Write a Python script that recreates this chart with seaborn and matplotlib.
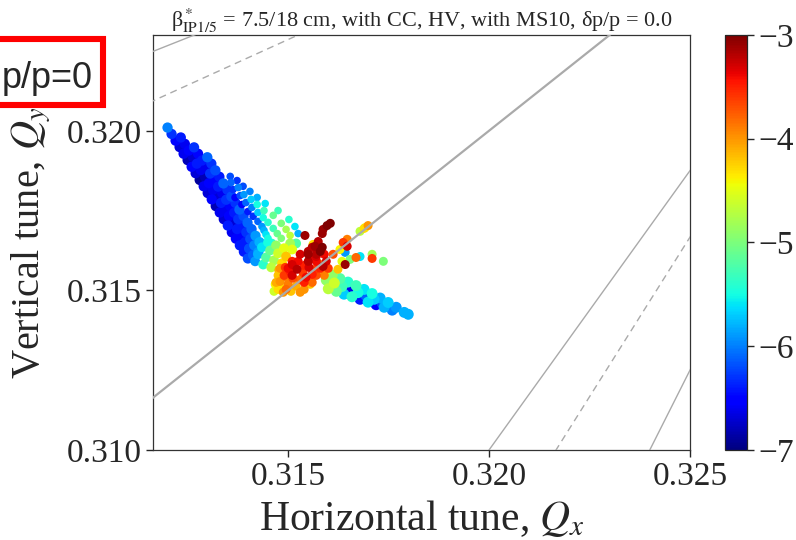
import numpy as np
import pandas as pd
import matplotlib
matplotlib.use("Agg")
import matplotlib.pyplot as plt
from matplotlib.patches import Rectangle
import seaborn as sns

# ---- tune footprint (Qx, Qy, log10 diffusion) ----
# left wing, dense body (4 strands running from the tip down to the kink)
left_wing_qx = [
    0.3120, 0.3121, 0.3122, 0.3123, 0.3124, 0.3125, 0.3126, 0.3127, 0.3128, 0.3129, 0.3130,
    0.3131, 0.3132, 0.3133, 0.3134, 0.3135, 0.3136, 0.3137, 0.3138, 0.3139, 0.3140,
    0.31233, 0.31243, 0.31253, 0.31263, 0.31273, 0.31283, 0.31293, 0.31303, 0.31313, 0.31323,
    0.31333, 0.31343, 0.31353, 0.31363, 0.31373, 0.31383, 0.31393, 0.31403, 0.31413,
    0.31266, 0.31276, 0.31286, 0.31296, 0.31306, 0.31316, 0.31326, 0.31336, 0.31346,
    0.31356, 0.31366, 0.31376, 0.31386, 0.31396, 0.31406, 0.31416, 0.31426,
    0.31299, 0.31309, 0.31319, 0.31329, 0.31339, 0.31349, 0.31359, 0.31369, 0.31379,
    0.31389, 0.31399, 0.31409, 0.31419, 0.31429,
]
left_wing_qy = [
    0.32010, 0.31990, 0.31969, 0.31949, 0.31928, 0.31908, 0.31887, 0.31867, 0.31846, 0.31826, 0.31805,
    0.31785, 0.31764, 0.31744, 0.31723, 0.31703, 0.31682, 0.31662, 0.31641, 0.31621, 0.31600,
    0.31979, 0.31959, 0.31938, 0.31918, 0.31897, 0.31877, 0.31856, 0.31836, 0.31815, 0.31795,
    0.31774, 0.31754, 0.31733, 0.31713, 0.31692, 0.31672, 0.31651, 0.31631, 0.31610,
    0.31948, 0.31928, 0.31907, 0.31887, 0.31866, 0.31846, 0.31825, 0.31805, 0.31784,
    0.31764, 0.31743, 0.31723, 0.31702, 0.31682, 0.31661, 0.31641, 0.31620,
    0.31917, 0.31897, 0.31876, 0.31856, 0.31835, 0.31815, 0.31794, 0.31774, 0.31753,
    0.31733, 0.31712, 0.31692, 0.31671, 0.31651,
]
left_wing_dq = [
    -6.0, -6.3, -6.5, -6.7, -6.6, -6.8, -6.5, -6.7, -6.9, -6.6, -6.7,
    -6.5, -6.8, -6.6, -6.7, -6.4, -6.6, -6.5, -6.4, -6.4, -6.2,
    -6.4, -6.6, -6.5, -6.7, -6.4, -6.6, -6.8, -6.5, -6.6, -6.7,
    -6.4, -6.6, -6.5, -6.7, -6.4, -6.5, -6.4, -6.2, -6.1,
    -6.3, -6.5, -6.4, -6.6, -6.3, -6.5, -6.4, -6.6, -6.3,
    -6.5, -6.4, -6.3, -6.4, -6.3, -6.2, -6.0, -5.9,
    -6.1, -6.3, -6.2, -6.4, -6.1, -6.3, -6.2, -6.3, -6.1,
    -6.2, -6.1, -6.1, -5.9, -5.8,
]

# fan of short strands sticking out of the left wing
fan_qx = [
    0.31368, 0.31363, 0.31358, 0.31356,
    0.31385, 0.31381, 0.31376, 0.31373,
    0.31400, 0.31395, 0.31390, 0.31388,
    0.31413, 0.31410, 0.31408, 0.31405,
    0.31425, 0.31425, 0.31423, 0.31423,
    0.31435, 0.31438, 0.31440, 0.31443,
    0.31440, 0.31450, 0.31463, 0.31475,
    0.31445, 0.31463, 0.31483, 0.31502,
    0.31450, 0.31473, 0.31495, 0.31517,
    0.31460, 0.31483, 0.31505, 0.31525,
]
fan_qy = [
    0.31791, 0.31816, 0.31838, 0.31857,
    0.31769, 0.31797, 0.31822, 0.31844,
    0.31747, 0.31775, 0.31800, 0.31826,
    0.31732, 0.31760, 0.31785, 0.31810,
    0.31716, 0.31744, 0.31769, 0.31791,
    0.31700, 0.31728, 0.31750, 0.31772,
    0.31688, 0.31713, 0.31735, 0.31750,
    0.31675, 0.31694, 0.31710, 0.31722,
    0.31663, 0.31678, 0.31691, 0.31700,
    0.31650, 0.31663, 0.31672, 0.31678,
]
fan_dq = [
    -6.5, -6.3, -6.1, -6.2,
    -6.5, -6.2, -6.0, -6.3,
    -6.4, -6.1, -5.9, -6.2,
    -6.3, -6.0, -5.7, -6.0,
    -6.1, -5.7, -5.5, -5.8,
    -5.9, -5.5, -5.3, -5.6,
    -5.8, -5.4, -5.1, -5.3,
    -5.6, -5.3, -5.0, -5.4,
    -5.5, -5.1, -4.8, -5.6,
    -5.4, -5.0, -4.7, -5.8,
]

# band joining the kink to the core
band_qx = [0.31418, 0.31438, 0.31458, 0.31478, 0.31425, 0.31445, 0.31465, 0.31485,
           0.31435, 0.31455, 0.31475, 0.31495, 0.31450, 0.31470, 0.31490,
           0.31505, 0.31510, 0.31520]
band_qy = [0.31591, 0.31581, 0.31572, 0.31563, 0.31613, 0.31603, 0.31594, 0.31585,
           0.31635, 0.31625, 0.31616, 0.31606, 0.31650, 0.31641, 0.31632,
           0.31647, 0.31628, 0.31647]
band_dq = [-5.9, -5.4, -4.7, -4.1, -5.8, -5.2, -4.8, -4.3,
           -5.6, -5.1, -4.6, -4.2, -5.5, -4.9, -4.5,
           -4.8, -4.5, -5.2]

# right wing
right_wing_qx = [
    0.31590, 0.31610, 0.31629, 0.31649, 0.31669, 0.31689, 0.31709, 0.31729, 0.31749, 0.31769, 0.31789,
    0.31595, 0.31615, 0.31634, 0.31654, 0.31674, 0.31694, 0.31714, 0.31734,
    0.31600, 0.31620, 0.31639, 0.31659, 0.31679, 0.31699, 0.31719, 0.31739, 0.31759,
    0.31799,
]
right_wing_qy = [
    0.31558, 0.31548, 0.31537, 0.31526, 0.31515, 0.31503, 0.31490, 0.31476, 0.31462, 0.31447, 0.31431,
    0.31532, 0.31523, 0.31512, 0.31503, 0.31493, 0.31483, 0.31472, 0.31460,
    0.31505, 0.31497, 0.31488, 0.31480, 0.31472, 0.31463, 0.31455, 0.31447, 0.31438,
    0.31425,
]
right_wing_dq = [
    -4.5, -4.9, -5.2, -5.4, -5.3, -5.6, -5.5, -5.8, -5.7, -5.9, -5.8,
    -4.9, -4.6, -5.3, -6.6, -5.5, -6.1, -5.7, -6.2,
    -4.7, -5.1, -5.7, -5.4, -6.4, -5.6, -6.5, -5.8, -6.0,
    -5.8,
]

# chaotic core around the coupling resonance
core_qx = [
    0.31493, 0.31510, 0.31525, 0.31540, 0.31505, 0.31522, 0.31537, 0.31495, 0.31512, 0.31530,
    0.31480, 0.31500, 0.31520, 0.31485, 0.31468, 0.31507, 0.31545, 0.31560, 0.31552, 0.31567,
    0.31575, 0.31555, 0.31475, 0.31488, 0.31465, 0.31530, 0.31555,
    0.31597, 0.31587, 0.31605, 0.31585, 0.31575, 0.31567, 0.31580, 0.31550, 0.31542, 0.31587,
    0.31570, 0.31562,
    0.31647, 0.31642, 0.31634, 0.31642, 0.31654, 0.31624, 0.31669, 0.31679, 0.31709, 0.31737,
    0.31689, 0.31699, 0.31679, 0.31612,
    0.31530, 0.31550, 0.31570, 0.31590, 0.31510, 0.31550, 0.31570, 0.31595,
    0.31480, 0.31500, 0.31580, 0.31600, 0.31490, 0.31510, 0.31570, 0.31590,
    0.31470, 0.31540, 0.31560, 0.31475, 0.31495, 0.31540, 0.31560, 0.31585,
    0.31637, 0.31647, 0.31629, 0.31692, 0.31709,
]
core_qy = [
    0.31572, 0.31581, 0.31591, 0.31578, 0.31559, 0.31566, 0.31556, 0.31541, 0.31538, 0.31534,
    0.31528, 0.31519, 0.31513, 0.31506, 0.31519, 0.31497, 0.31541, 0.31550, 0.31572, 0.31566,
    0.31585, 0.31600, 0.31547, 0.31494, 0.31497, 0.31494, 0.31519,
    0.31703, 0.31691, 0.31710, 0.31678, 0.31653, 0.31638, 0.31622, 0.31622, 0.31672, 0.31575,
    0.31606, 0.31644,
    0.31638, 0.31619, 0.31591, 0.31581, 0.31597, 0.31566, 0.31603, 0.31606, 0.31613, 0.31591,
    0.31694, 0.31703, 0.31685, 0.31613,
    0.31613, 0.31613, 0.31613, 0.31613, 0.31591, 0.31591, 0.31591, 0.31591,
    0.31569, 0.31569, 0.31569, 0.31569, 0.31547, 0.31547, 0.31547, 0.31547,
    0.31525, 0.31525, 0.31525, 0.31503, 0.31503, 0.31503, 0.31635, 0.31635,
    0.31650, 0.31660, 0.31628, 0.31697, 0.31600,
]
core_dq = [
    -3.6, -3.3, -3.4, -3.5, -3.5, -3.2, -3.6, -3.9, -3.7, -3.8,
    -4.0, -3.9, -4.1, -4.3, -4.4, -4.2, -3.4, -3.5, -3.3, -3.6,
    -3.8, -3.4, -4.2, -4.0, -4.6, -4.0, -4.2,
    -3.0, -3.1, -3.0, -3.1, -3.2, -3.1, -3.0, -3.2, -3.1, -3.2,
    -3.3, -4.3,
    -3.3, -5.9, -4.5, -3.1, -5.0, -4.2, -3.8, -5.6, -4.8, -5.0,
    -4.3, -4.0, -4.7, -3.7,
    -3.3, -3.1, -3.2, -3.4, -3.5, -3.2, -3.4, -3.3,
    -4.0, -3.4, -3.5, -3.6, -3.6, -3.3, -3.7, -3.9,
    -4.1, -3.5, -3.8, -4.3, -3.8, -4.0, -3.2, -3.0,
    -3.6, -3.9, -4.4, -4.4, -3.6,
]

# resonance lines  m*Qx + n*Qy = p
res_m = [1, -3, 4, 7, 6, 5]
res_n = [-1, 6, -7, -4, -3, -2]
res_p = [0, 1, -1, 1, 1, 1]
res_dashed = [False, False, True, False, True, False]

x_ticks = [0.315, 0.320, 0.325]
y_ticks = [0.310, 0.315, 0.320]
cbar_ticks = [-7, -6, -5, -4, -3]

groups = [
    ("left wing", left_wing_qx, left_wing_qy, left_wing_dq, 55),
    ("fan", fan_qx, fan_qy, fan_dq, 30),
    ("band", band_qx, band_qy, band_dq, 50),
    ("right wing", right_wing_qx, right_wing_qy, right_wing_dq, 62),
    ("core", core_qx, core_qy, core_dq, 42),
]

jet = matplotlib.colormaps["jet"]

sns.set_style("ticks")
plt.rcParams["font.family"] = ["Liberation Serif", "DejaVu Serif"]
plt.rcParams["mathtext.fontset"] = "stix"
plt.rcParams["xtick.direction"] = "out"
plt.rcParams["ytick.direction"] = "out"

fig = plt.figure(figsize=(7.96, 5.40), dpi=100)
ax = fig.add_axes([0.1928, 0.1667, 0.674, 0.7685])

for name, gx, gy, gd, size in groups:
    gdf = pd.DataFrame({"qx": gx, "qy": gy, "dq": gd}).sort_values("dq")
    sns.scatterplot(data=gdf, x="qx", y="qy", hue="dq", palette=jet, hue_norm=(-7, -3),
                    s=size, linewidth=0, legend=False, ax=ax, zorder=2)

xs = np.array([0.311, 0.326])
for m, n, p, dashed in zip(res_m, res_n, res_p, res_dashed):
    ys = (p - m * xs) / n
    lw = 1.6 if m == 1 and n == -1 else 1.0
    if dashed:
        ax.plot(xs, ys, color="#aaaaaa", lw=lw, dashes=(5, 3.5), zorder=3)
    else:
        ax.plot(xs, ys, color="#aaaaaa", lw=lw, zorder=3)

ax.set_xlim(0.31165, 0.325)
ax.set_ylim(0.310, 0.323)
ax.set_xticks(x_ticks)
ax.set_yticks(y_ticks)
ax.set_xticklabels(["%.3f" % v for v in x_ticks])
ax.set_yticklabels(["%.3f" % v for v in y_ticks])
ax.tick_params(labelsize=24, length=5, width=1)
for sp in ax.spines.values():
    sp.set_linewidth(0.9)
    sp.set_color("#333333")

ax.set_xlabel(r"Horizontal tune, $Q_x$", fontsize=30, labelpad=4)
ax.set_ylabel(r"Vertical tune, $Q_y$", fontsize=29, labelpad=10)
ax.set_title(r"β$^*_{\rm IP1/5}$ = 7.5/18 cm, with CC, HV, with MS10, δp/p = 0.0",
             fontsize=16, pad=6)

# colour bar
cax = fig.add_axes([0.9108, 0.1667, 0.0276, 0.7685])
sm = plt.cm.ScalarMappable(norm=plt.Normalize(-7, -3), cmap=jet)
cb = fig.colorbar(sm, cax=cax, ticks=cbar_ticks)
cb.ax.tick_params(labelsize=24, length=5, width=1)
cb.outline.set_linewidth(0.9)

# red boxed label overlay at top left (box runs off the left edge)
fig.patches.append(Rectangle((-0.0126, 0.8056), 0.1426, 0.1222, transform=fig.transFigure,
                             facecolor="white", edgecolor="red", linewidth=4.4, zorder=5))
fig.text(93 / 796, 1 - 88 / 540, "p/p=0", fontsize=26, family=["Liberation Sans", "DejaVu Sans"],
         ha="right", va="baseline", zorder=10)

fig.savefig("out.png", dpi=100)
